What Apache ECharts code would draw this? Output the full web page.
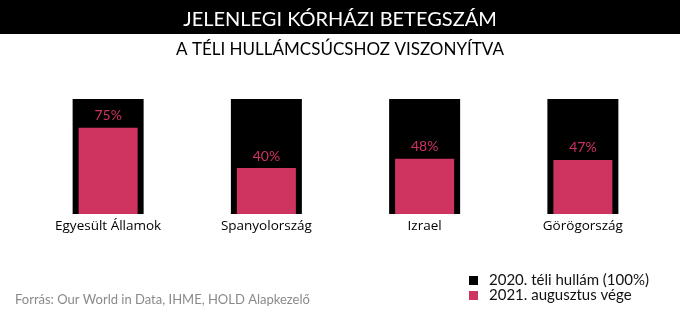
<!DOCTYPE html>
<html>
<head>
<meta charset="utf-8">
<script src="https://cdn.jsdelivr.net/npm/echarts@6/dist/echarts.min.js"></script>
<style>
  html, body { margin: 0; padding: 0; background: #fff; }
  #chart { width: 680px; height: 335px; }
</style>
</head>
<body>
<div id="chart"></div>
<script>
// Countries and hospitalisation levels (% of the 2020 winter peak)
const countries = ['Egyesült Államok', 'Spanyolország', 'Izrael', 'Görögország'];
const winterPeak = [100, 100, 100, 100];
const augustEnd = [75, 40, 48, 47];
const seriesNames = ['2020. téli hullám (100%)', '2021. augusztus vége'];

const PINK = '#cf3360';
const chart = echarts.init(document.getElementById('chart'));

chart.setOption({
  animation: false,
  backgroundColor: '#ffffff',
  title: [
    {
      text: 'JELENLEGI KÓRHÁZI BETEGSZÁM',
      left: 'center',
      top: 5,
      textStyle: { color: '#ffffff', fontFamily: 'Lato', fontWeight: 'normal', fontSize: 20 }
    },
    {
      text: 'A TÉLI HULLÁMCSÚCSHOZ VISZONYÍTVA',
      left: 'center',
      top: 36,
      textStyle: { color: '#000000', fontFamily: 'Lato', fontWeight: 'normal', fontSize: 17 }
    }
  ],
  graphic: [
    {
      type: 'rect',
      z: -1,
      shape: { x: 0, y: 0, width: 680, height: 34 },
      style: { fill: '#000000' }
    },
    {
      type: 'text',
      left: 15,
      top: 293,
      style: {
        text: 'Forrás: Our World in Data, IHME, HOLD Alapkezelő',
        font: '13px Lato',
        fill: '#8a8a8a'
      }
    }
  ],
  legend: {
    orient: 'vertical',
    left: 464,
    top: 268,
    itemWidth: 9,
    itemHeight: 9,
    itemGap: 0,
    icon: 'rect',
    selectedMode: false,
    textStyle: { fontFamily: 'Lato', fontSize: 15, lineHeight: 15, color: '#111111', padding: [0, 0, 0, 6] },
    data: seriesNames
  },
  grid: { left: 29, right: 18, top: 99, bottom: 121 },
  xAxis: [
    {
      type: 'category',
      data: countries,
      axisLine: { show: false },
      axisTick: { show: false },
      axisLabel: { margin: 5, color: '#000000', fontFamily: 'Open Sans', fontSize: 13.5, interval: 0 }
    },
    {
      type: 'category',
      data: countries,
      show: false
    }
  ],
  yAxis: { type: 'value', min: 0, max: 100, show: false },
  series: [
    {
      name: seriesNames[0],
      type: 'bar',
      xAxisIndex: 0,
      data: winterPeak,
      barWidth: 71,
      itemStyle: { color: '#000000' },
      z: 1
    },
    {
      name: seriesNames[1],
      type: 'bar',
      xAxisIndex: 1,
      data: augustEnd,
      barWidth: 59,
      itemStyle: { color: PINK },
      z: 2,
      label: {
        show: true,
        position: 'top',
        distance: 5,
        formatter: '{c}%',
        color: PINK,
        fontFamily: 'Lato',
        fontSize: 14
      }
    }
  ]
});
</script>
</body>
</html>
